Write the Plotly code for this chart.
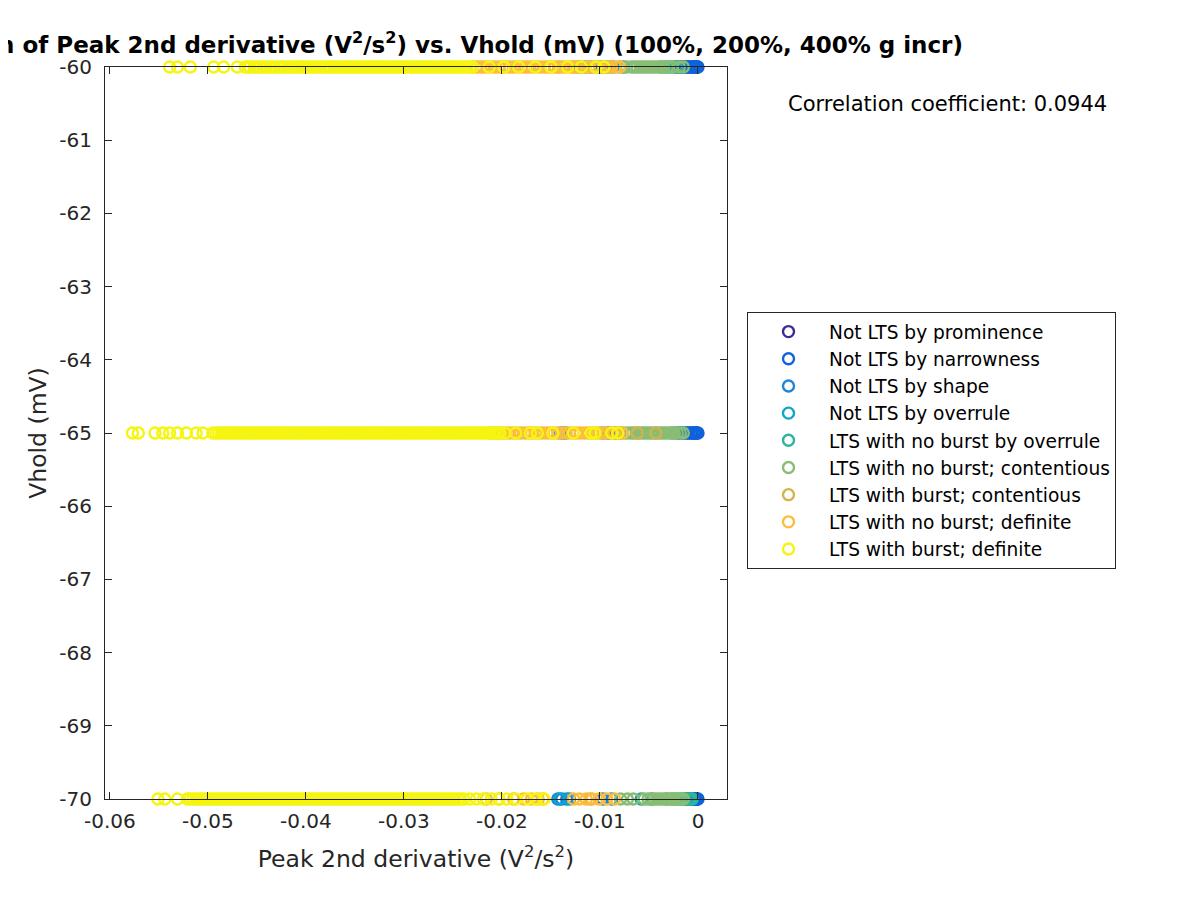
import plotly.graph_objects as go

# ---------------- data (Peak 2nd derivative, V^2/s^2) per category and holding level ----------------
VHOLD_LEVELS = [-60, -65, -70]

category_names = [
    "Not LTS by prominence",
    "Not LTS by narrowness",
    "Not LTS by shape",
    "Not LTS by overrule",
    "LTS with no burst by overrule",
    "LTS with no burst; contentious",
    "LTS with burst; contentious",
    "LTS with no burst; definite",
    "LTS with burst; definite",
]
category_colors = ["#3b2a98", "#0f62dc", "#1a86dc", "#0ca6c8", "#2eb59d",
                   "#88bd74", "#d4b24c", "#fbbd3b", "#f5f510"]

prominence_m60 = [-0.0004, -0.0001]
prominence_m65 = [-0.0003]
prominence_m70 = [-0.0002]

narrowness_m60 = [-0.0023, -0.0021, -0.0019, -0.0017, -0.0016, -0.0014, -0.0012, -0.0011, -0.0009,
                  -0.0008, -0.0006, -0.0005, -0.0004, -0.0003, -0.0002, -0.0001, 0.0000]
narrowness_m65 = [-0.0090, -0.0084, -0.0021, -0.0019, -0.0017, -0.0015, -0.0013, -0.0011, -0.0009,
                  -0.0007, -0.0006, -0.0004, -0.0003, -0.0002, -0.0001, 0.0000]
narrowness_m70 = [-0.0013, -0.0011, -0.0009, -0.0007, -0.0005, -0.0004, -0.0003, -0.0002, -0.0001, 0.0000]

shape_m60 = [-0.0121, -0.0115, -0.0110, -0.0104, -0.0099, -0.0093, -0.0087]
shape_m65 = [-0.0140, -0.0135, -0.0097, -0.0092]
shape_m70 = [-0.0143, -0.0139, -0.0134, -0.0097, -0.0088, -0.0047]

overrule_m60 = [-0.0076, -0.0038, -0.0030]
overrule_m65 = [-0.0137, -0.0081]
overrule_m70 = [-0.0141, -0.0131, -0.0058]

noburst_overrule_m60 = [-0.0034, -0.0027, -0.0022]
noburst_overrule_m65 = [-0.0026]
noburst_overrule_m70 = [-0.0032, -0.0027, -0.0023, -0.0019, -0.0016, -0.0013, -0.0010, -0.0008, -0.0006]

noburst_cont_m60 = [-0.0089, -0.0080, -0.0073, -0.0068, -0.0065, -0.0062, -0.0059, -0.0056, -0.0053,
                    -0.0050, -0.0047, -0.0044, -0.0041, -0.0038, -0.0035, -0.0031, -0.0026, -0.0019, -0.0015]
noburst_cont_m65 = [-0.0077, -0.0073, -0.0069, -0.0066, -0.0063, -0.0060, -0.0057, -0.0054, -0.0051,
                    -0.0048, -0.0045, -0.0042, -0.0039, -0.0036, -0.0033, -0.0030, -0.0027, -0.0024,
                    -0.0021, -0.0018, -0.0015]
noburst_cont_m70 = [-0.0079, -0.0072, -0.0066, -0.0055, -0.0051, -0.0048, -0.0045, -0.0042, -0.0039,
                    -0.0036, -0.0033, -0.0030, -0.0027, -0.0024, -0.0021, -0.0018, -0.0015]

burst_cont_m60 = [-0.0142, -0.0126]
burst_cont_m65 = [-0.0062, -0.0043]
burst_cont_m70 = [-0.0110]

noburst_def_m60 = [-0.0230, -0.0226, -0.0222, -0.0219, -0.0215, -0.0211, -0.0207, -0.0203, -0.0199,
                   -0.0196, -0.0192, -0.0188, -0.0184, -0.0180, -0.0176, -0.0173, -0.0169, -0.0165,
                   -0.0161, -0.0157, -0.0153, -0.0150, -0.0146, -0.0142, -0.0138, -0.0134, -0.0130,
                   -0.0127, -0.0123, -0.0119, -0.0115, -0.0111, -0.0107, -0.0104, -0.0100, -0.0096,
                   -0.0092, -0.0088, -0.0084, -0.0080]
noburst_def_m65 = [-0.0212, -0.0208, -0.0204, -0.0200, -0.0196, -0.0193, -0.0189, -0.0185, -0.0181,
                   -0.0177, -0.0173, -0.0170, -0.0166, -0.0162, -0.0158, -0.0154, -0.0150, -0.0147,
                   -0.0143, -0.0139, -0.0135, -0.0131, -0.0127, -0.0124, -0.0120, -0.0116, -0.0112,
                   -0.0108, -0.0104, -0.0101, -0.0097, -0.0093, -0.0089, -0.0085, -0.0081, -0.0077]
noburst_def_m70 = [-0.0216, -0.0203, -0.0188, -0.0178, -0.0170, -0.0163, -0.0158, -0.0127, -0.0121,
                   -0.0114, -0.0108, -0.0101, -0.0093, -0.0085]

burst_def_m60 = [-0.0539, -0.0531, -0.0518, -0.0494, -0.0484, -0.0470,
                 -0.0462, -0.0459, -0.0457, -0.0453, -0.0450, -0.0447, -0.0444, -0.0441, -0.0437,
                 -0.0435, -0.0432, -0.0428, -0.0425, -0.0423, -0.0419, -0.0416, -0.0413, -0.0410,
                 -0.0407, -0.0404, -0.0401, -0.0398, -0.0395, -0.0392, -0.0389, -0.0386, -0.0382,
                 -0.0380, -0.0377, -0.0374, -0.0371, -0.0368, -0.0365, -0.0362, -0.0359, -0.0356,
                 -0.0353, -0.0350, -0.0347, -0.0344, -0.0341, -0.0338, -0.0335, -0.0332, -0.0329,
                 -0.0326, -0.0323, -0.0320, -0.0317, -0.0314, -0.0311, -0.0308, -0.0305, -0.0302,
                 -0.0299, -0.0296, -0.0293, -0.0290, -0.0287, -0.0284, -0.0281, -0.0278, -0.0275,
                 -0.0272, -0.0269, -0.0266, -0.0263, -0.0260, -0.0257, -0.0254, -0.0251, -0.0248,
                 -0.0245, -0.0242, -0.0239, -0.0236, -0.0233, -0.0230,
                 -0.0213, -0.0198, -0.0183, -0.0166, -0.0150, -0.0133, -0.0119, -0.0104, -0.0096]
burst_def_m65 = [-0.0577, -0.0571, -0.0554, -0.0546, -0.0539, -0.0531, -0.0522, -0.0512, -0.0505,
                 -0.0495, -0.0492, -0.0489, -0.0486, -0.0483, -0.0480, -0.0477, -0.0474, -0.0471,
                 -0.0468, -0.0465, -0.0462, -0.0459, -0.0456, -0.0453, -0.0450, -0.0447, -0.0444,
                 -0.0441, -0.0438, -0.0435, -0.0432, -0.0429, -0.0426, -0.0423, -0.0420, -0.0417,
                 -0.0414, -0.0411, -0.0408, -0.0405, -0.0402, -0.0399, -0.0396, -0.0393, -0.0390,
                 -0.0387, -0.0384, -0.0381, -0.0378, -0.0375, -0.0372, -0.0369, -0.0366, -0.0363,
                 -0.0360, -0.0357, -0.0354, -0.0351, -0.0348, -0.0345, -0.0342, -0.0339, -0.0336,
                 -0.0333, -0.0330, -0.0327, -0.0324, -0.0321, -0.0318, -0.0315, -0.0312, -0.0309,
                 -0.0306, -0.0303, -0.0300, -0.0297, -0.0294, -0.0291, -0.0288, -0.0285, -0.0282,
                 -0.0279, -0.0276, -0.0273, -0.0270, -0.0267, -0.0264, -0.0261, -0.0258, -0.0255,
                 -0.0252, -0.0249, -0.0246, -0.0243, -0.0240, -0.0237, -0.0234, -0.0231, -0.0228,
                 -0.0225, -0.0222, -0.0219, -0.0216, -0.0213, -0.0210, -0.0207, -0.0204, -0.0202,
                 -0.0197, -0.0186, -0.0171, -0.0164, -0.0148, -0.0127, -0.0109, -0.0105, -0.0088, -0.0082]
burst_def_m70 = [-0.0551, -0.0544, -0.0531,
                 -0.0521, -0.0518, -0.0515, -0.0512, -0.0509, -0.0506, -0.0503, -0.0500, -0.0497,
                 -0.0494, -0.0491, -0.0488, -0.0485, -0.0482, -0.0479, -0.0476, -0.0473, -0.0470,
                 -0.0467, -0.0464, -0.0461, -0.0458, -0.0455, -0.0452, -0.0449, -0.0446, -0.0443,
                 -0.0440, -0.0437, -0.0434, -0.0431, -0.0428, -0.0425, -0.0422, -0.0419, -0.0416,
                 -0.0413, -0.0410, -0.0407, -0.0404, -0.0401, -0.0398, -0.0395, -0.0392, -0.0389,
                 -0.0386, -0.0383, -0.0380, -0.0377, -0.0374, -0.0371, -0.0368, -0.0365, -0.0362,
                 -0.0359, -0.0356, -0.0353, -0.0350, -0.0347, -0.0344, -0.0341, -0.0338, -0.0335,
                 -0.0332, -0.0329, -0.0326, -0.0323, -0.0320, -0.0317, -0.0314, -0.0311, -0.0308,
                 -0.0305, -0.0302, -0.0299, -0.0296, -0.0293, -0.0290, -0.0287, -0.0284, -0.0281,
                 -0.0278, -0.0275, -0.0272, -0.0269, -0.0266, -0.0263, -0.0260, -0.0257, -0.0254,
                 -0.0251, -0.0248, -0.0245, -0.0242, -0.0239,
                 -0.0233, -0.0226, -0.0219, -0.0211, -0.0203, -0.0195, -0.0186, -0.0174, -0.0165, -0.0157]

x_tickvals = [-0.06, -0.05, -0.04, -0.03, -0.02, -0.01, 0]
x_ticktext = ["-0.06", "-0.05", "-0.04", "-0.03", "-0.02", "-0.01", "0"]
y_tickvals = [-70, -69, -68, -67, -66, -65, -64, -63, -62, -61, -60]
y_ticktext = ["-70", "-69", "-68", "-67", "-66", "-65", "-64", "-63", "-62", "-61", "-60"]

correlation_coefficient = 0.0944

category_data = [
    (prominence_m60, prominence_m65, prominence_m70),
    (narrowness_m60, narrowness_m65, narrowness_m70),
    (shape_m60, shape_m65, shape_m70),
    (overrule_m60, overrule_m65, overrule_m70),
    (noburst_overrule_m60, noburst_overrule_m65, noburst_overrule_m70),
    (noburst_cont_m60, noburst_cont_m65, noburst_cont_m70),
    (burst_cont_m60, burst_cont_m65, burst_cont_m70),
    (noburst_def_m60, noburst_def_m65, noburst_def_m70),
    (burst_def_m60, burst_def_m65, burst_def_m70),
]

FONT = "DejaVu Sans"
AX = "#262626"

fig = go.Figure()
for name, color, rows in zip(category_names, category_colors, category_data):
    xs, ys = [], []
    for level, vals in zip(VHOLD_LEVELS, rows):
        xs.extend(vals)
        ys.extend([level] * len(vals))
    fig.add_trace(go.Scatter(
        x=xs, y=ys, mode="markers", name=name,
        cliponaxis=False,
        marker=dict(symbol="circle-open", size=11, color=color, line=dict(width=2.4, color=color)),
    ))

# page has an 8px body margin; target plot box in screenshot: x 105..727, y 67..799
OFF = 8
W, H = 1200, 900
L, T = 105 - OFF, 67 - OFF
PW, PH = 622, 732
R = W - L - PW
B = H - T - PH

fig.update_layout(
    width=W, height=H,
    margin=dict(l=L, r=R, t=T, b=B, autoexpand=False),
    paper_bgcolor="white", plot_bgcolor="white",
    font=dict(family=FONT, color=AX, size=20),
    title=dict(
        text="Correlation of Peak 2nd derivative (V<sup>2</sup>/s<sup>2</sup>) vs. Vhold (mV) (100%, 200%, 400% g incr)",
        font=dict(family=FONT, size=23, color="black", weight="bold"),
        xref="paper", x=0.5, xanchor="center",
        yref="container", y=1 - (45 - OFF) / H, yanchor="middle",
    ),
    xaxis=dict(
        range=[-0.0605, 0.00296], tickvals=x_tickvals, ticktext=x_ticktext,
        ticks="inside", ticklen=7, tickcolor=AX, showline=True, linecolor=AX, linewidth=1,
        mirror="ticks", showgrid=False, zeroline=False, ticklabelstandoff=4,
        tickfont=dict(family=FONT, size=20, color=AX),
        title=dict(text="Peak 2nd derivative (V<sup>2</sup>/s<sup>2</sup>)",
                   font=dict(family=FONT, size=23.5, color=AX), standoff=18),
    ),
    yaxis=dict(
        range=[-70, -60], tickvals=y_tickvals, ticktext=y_ticktext,
        ticks="inside", ticklen=7, tickcolor=AX, showline=True, linecolor=AX, linewidth=1,
        mirror="ticks", showgrid=False, zeroline=False, ticklabelstandoff=8,
        tickfont=dict(family=FONT, size=20, color=AX),
        title=dict(text="Vhold (mV)", font=dict(family=FONT, size=23.5, color=AX), standoff=6),
    ),
    legend=dict(
        x=(747 - 105) / PW, y=(799 - 312) / PH, xanchor="left", yanchor="top",
        bgcolor="white", bordercolor=AX, borderwidth=1,
        font=dict(family=FONT, size=18.6, color="black"),
        itemwidth=71,
    ),
    showlegend=True,
)

fig.add_annotation(
    text=f"Correlation coefficient: {correlation_coefficient}",
    xref="paper", yref="paper",
    x=(948 - 105) / PW, y=(799 - 104) / PH,
    xanchor="center", yanchor="middle", showarrow=False,
    font=dict(family=FONT, size=21, color="black"),
)

fig.write_html("out.html")
